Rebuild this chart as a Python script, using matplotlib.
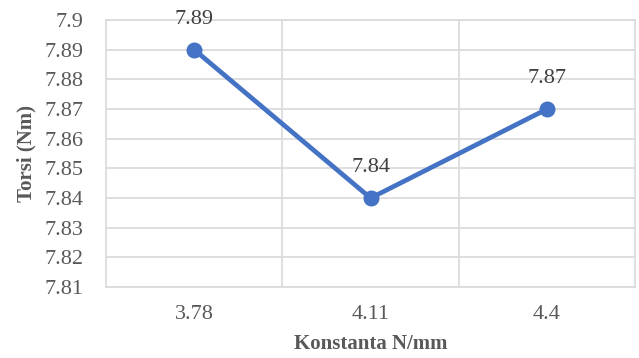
import matplotlib.pyplot as plt
import numpy as np

categories = ["3.78", "4.11", "4.4"]
torsi = [7.89, 7.84, 7.87]
yticks = [7.81, 7.82, 7.83, 7.84, 7.85, 7.86, 7.87, 7.88, 7.89, 7.9]

LINE_COLOR = "#4472C4"
TEXT_COLOR = "#595959"
GRID_COLOR = "#d9d9d9"

plt.rcParams["font.family"] = ["Liberation Serif", "DejaVu Serif"]

fig = plt.figure(figsize=(6.39, 3.58), dpi=100)
ax = fig.add_axes([0.166, 0.198, 0.828, 0.746])

x = np.arange(len(categories))
ax.plot(x, torsi, color=LINE_COLOR, linewidth=3.4, marker="o",
        markersize=10.5, solid_capstyle="round", zorder=3, clip_on=False)

for xi, v in zip(x, torsi):
    ax.annotate(f"{v:g}", (xi, v), xytext=(0, 15), textcoords="offset points",
                ha="center", va="bottom", fontsize=16, color="#404040",
                annotation_clip=False)

ax.set_xlim(-0.5, len(categories) - 0.5)
ax.set_ylim(7.81, 7.9)
ax.set_yticks(yticks)
ax.set_yticklabels([f"{t:g}" for t in yticks])
ax.set_xticks(x)
ax.set_xticklabels(categories)

# category separators as vertical gridlines
ax.set_xticks(np.arange(len(categories) - 1) + 0.5, minor=True)
ax.grid(axis="x", which="minor", color=GRID_COLOR, linewidth=1.2)
ax.grid(axis="y", which="major", color=GRID_COLOR, linewidth=1.2)
ax.set_axisbelow(True)

for s in ax.spines.values():
    s.set_color(GRID_COLOR)
    s.set_linewidth(1.2)

ax.tick_params(axis="both", which="both", length=0, labelsize=16,
               labelcolor=TEXT_COLOR)
ax.tick_params(axis="x", pad=13)
ax.tick_params(axis="y", pad=16)

ax.set_xlabel("Konstanta N/mm", fontsize=15, fontweight="bold",
              color=TEXT_COLOR, labelpad=7)
ax.set_ylabel("Torsi (Nm)", fontsize=15, fontweight="bold",
              color=TEXT_COLOR, labelpad=6)

fig.savefig("out.png", dpi=100)
